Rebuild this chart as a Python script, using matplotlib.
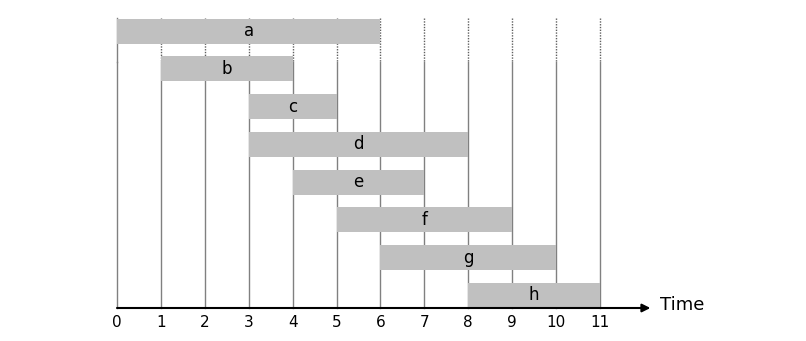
import numpy as np
import matplotlib
matplotlib.use('Agg')
import matplotlib.pyplot as plt

# interval data
names = ['a', 'b', 'c', 'd', 'e', 'f', 'g', 'h']
starts = [0, 1, 3, 3, 4, 5, 6, 8]
ends = [6, 4, 5, 8, 7, 9, 10, 11]
ticks = list(range(12))

px = 43.9   # pixels per time unit
py = 37.75  # pixels per row

fig = plt.figure(figsize=(8.06, 3.41), dpi=100)
ax = fig.add_axes([0, 0, 1, 1])
ax.set_xlim(-117 / px, (806 - 117) / px)
ax.set_ylim((341 - 31) / py, -31 / py)
ax.axis('off')

axis_y = (308 - 31) / py
top_y = (18 - 31) / py
bar_h = 25 / py

# vertical grid lines, dotted near the top
dot_end = (62 - 31) / py
for t in ticks:
    ax.plot([t, t], [dot_end, axis_y], color='#808080', lw=1, zorder=1)
    if t == 0:
        ax.plot([t, t], [top_y, dot_end], color='#808080', lw=1, zorder=1)
    else:
        ax.plot([t, t], [top_y, dot_end], color='#606060', lw=1, ls=(0, (1, 1)), zorder=1)

for i, (n, s, e) in enumerate(zip(names, starts, ends)):
    ax.barh(i, e - s, left=s, height=bar_h, color='#c0c0c0', edgecolor='none', zorder=2)
    ax.text((s + e) / 2, i, n, ha='center', va='center', fontsize=12, zorder=3)

# time axis with arrow
ax.annotate('', xy=(12.15, axis_y), xytext=(0, axis_y),
            arrowprops=dict(arrowstyle='-|>', color='black', lw=1.5,
                            mutation_scale=12, shrinkA=0, shrinkB=0), zorder=4)
ax.text(12.37, axis_y - 0.08, 'Time', ha='left', va='center', fontsize=13)

lab_y = (322 - 31) / py
for t in ticks:
    ax.text(t, lab_y, str(t), ha='center', va='center', fontsize=11)

fig.savefig('out.png', dpi=100)
